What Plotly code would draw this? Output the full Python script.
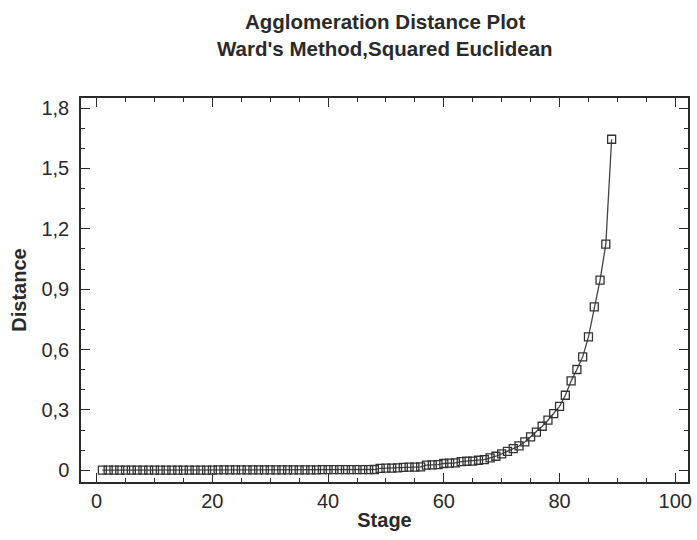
import plotly.graph_objects as go

stages = list(range(1, 90))
distance = (
    [0.001, 0.001, 0.001, 0.001, 0.001, 0.001, 0.001, 0.001, 0.001, 0.001,
     0.001, 0.001, 0.001, 0.001, 0.001, 0.001, 0.001, 0.001, 0.001, 0.001,
     0.002, 0.002, 0.002, 0.002, 0.002, 0.002, 0.002, 0.002, 0.002, 0.002,
     0.002, 0.002, 0.002, 0.002, 0.002, 0.002, 0.002, 0.002, 0.003, 0.003,
     0.003, 0.003, 0.003, 0.003, 0.003, 0.003, 0.003, 0.004,
     0.010, 0.011, 0.011, 0.012,
     0.015, 0.016, 0.016, 0.017,
     0.026, 0.027, 0.028,
     0.034, 0.036, 0.037,
     0.043, 0.045, 0.046,
     0.050, 0.053, 0.062, 0.070, 0.082, 0.094, 0.108, 0.121, 0.141, 0.166,
     0.190, 0.219, 0.249, 0.282, 0.318, 0.373, 0.444, 0.501, 0.564, 0.663,
     0.812, 0.945, 1.124, 1.645]
)

y_tickvals = [0, 0.3, 0.6, 0.9, 1.2, 1.5, 1.8]
y_ticktext = ["0", "0,3", "0,6", "0,9", "1,2", "1,5", "1,8"]
x_tickvals = [0, 20, 40, 60, 80, 100]

title_lines = ["Agglomeration Distance Plot", "Ward's Method,Squared Euclidean"]
x_title = "Stage"
y_title = "Distance"

FONT = "Liberation Sans, Arial, sans-serif"
INK = "#2a2a2a"

fig = go.Figure()
fig.add_trace(go.Scatter(
    x=stages, y=distance, mode="lines+markers",
    line=dict(color="#444444", width=1.3),
    marker=dict(symbol="square-open", size=8, color="#333333",
                line=dict(width=1.3, color="#333333")),
    showlegend=False,
))

axis_common = dict(
    showline=True, linecolor=INK, linewidth=1.5, mirror="allticks",
    ticks="inside", ticklen=9, tickwidth=1.2, tickcolor=INK,
    showgrid=False, zeroline=False, automargin=False,
    tickfont=dict(family=FONT, size=20, color=INK),
)

# two-line title as annotations (positions in paper coords above the plot)
for txt, yp in zip(title_lines, [1.198, 1.128]):
    fig.add_annotation(text="<b>" + txt + "</b>", xref="paper", yref="paper",
                       x=0.5, y=yp, xanchor="center", yanchor="middle",
                       showarrow=False,
                       font=dict(family=FONT, size=20.5, color=INK))

fig.update_layout(
    width=697, height=540,
    paper_bgcolor="white", plot_bgcolor="white",
    margin=dict(l=81, r=9, t=98, b=58),
    xaxis=dict(**axis_common, range=[-2.7, 102.2], tickvals=x_tickvals,
               minor=dict(dtick=5, ticks="inside", ticklen=4, tickcolor=INK, tickwidth=1),
               title=dict(text="<b>" + x_title + "</b>", standoff=2,
                          font=dict(family=FONT, size=20, color=INK))),
    yaxis=dict(**axis_common, range=[-0.058, 1.85], tickvals=y_tickvals,
               ticktext=y_ticktext, ticklabelstandoff=6,
               minor=dict(dtick=0.1, ticks="inside", ticklen=4, tickcolor=INK, tickwidth=1),
               title=dict(text="<b>" + y_title + "</b>", standoff=9,
                          font=dict(family=FONT, size=20, color=INK))),
)

fig.write_html("out.html", config={"displayModeBar": False},
               post_script="document.body.style.margin='0';")
